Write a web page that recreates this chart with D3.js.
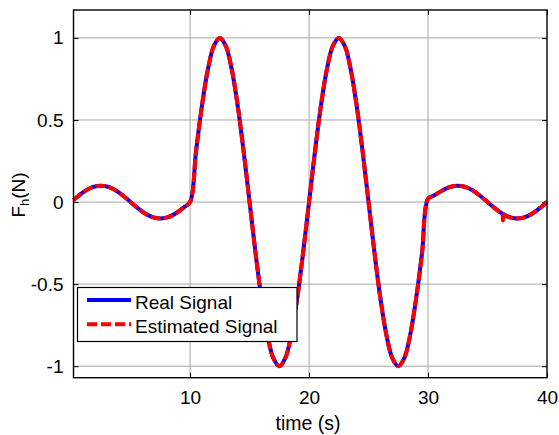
<!DOCTYPE html>
<html><head><meta charset="utf-8">
<script src="https://cdn.jsdelivr.net/npm/d3@7"></script>
<style>
html,body{margin:0;padding:0;background:#fff;}
svg{display:block;}
text{font-family:"Liberation Sans",Arial,sans-serif;fill:#000;}
</style></head>
<body>
<svg id="chart" width="559" height="435"></svg>
<script>
// ---- data ----
const realTime = [0.2,0.5,1,1.5,2,2.5,3,3.5,4,4.5,5,5.5,6,6.5,7,7.5,8,8.5,9,9.5,
  10,10.5,11,11.5,12,12.5,13,13.5,14,14.5,15,15.5,16,16.5,17,17.5,18,18.5,19,19.5,
  20,20.5,21,21.5,22,22.5,23,23.5,24,24.5,25,25.5,26,26.5,27,27.5,28,28.5,29,29.5,
  30,30.5,31,31.5,32,32.5,33,33.5,34,34.5,35,35.5,36,36.5,37,37.5,38,38.5,39,39.5,40];
const realSignal = [0.013,0.031,0.059,0.081,0.095,0.100,0.095,0.081,0.059,0.031,
  0.000,-0.031,-0.059,-0.081,-0.095,-0.100,-0.095,-0.081,-0.059,-0.031,
  0.000,0.309,0.588,0.809,0.951,1.000,0.951,0.809,0.588,0.309,
  0.000,-0.309,-0.588,-0.809,-0.951,-1.000,-0.951,-0.809,-0.588,-0.309,
  0.000,0.309,0.588,0.809,0.951,1.000,0.951,0.809,0.588,0.309,
  0.000,-0.309,-0.588,-0.809,-0.951,-1.000,-0.951,-0.809,-0.588,-0.309,
  0.020,0.040,0.062,0.082,0.095,0.100,0.095,0.081,0.059,0.031,
  0.000,-0.031,-0.059,-0.081,-0.095,-0.100,-0.095,-0.081,-0.059,-0.031,0.000];
const estTime = [0.2,0.5,1,1.5,2,2.5,3,3.5,4,4.5,5,5.5,6,6.5,7,7.5,8,8.5,9,9.5,
  10,10.5,11,11.5,12,12.5,13,13.5,14,14.5,15,15.5,16,16.5,17,17.5,18,18.5,19,19.5,
  20,20.5,21,21.5,22,22.5,23,23.5,24,24.5,25,25.5,26,26.5,27,27.5,28,28.5,29,29.5,
  30,30.5,31,31.5,32,32.5,33,33.5,34,34.5,35,35.5,36,36.25,36.3,36.35,36.5,37,37.5,38,38.5,39,39.5,40];
const estSignal = [0.013,0.031,0.059,0.081,0.095,0.100,0.095,0.081,0.059,0.031,
  0.000,-0.031,-0.059,-0.081,-0.095,-0.100,-0.095,-0.081,-0.059,-0.031,
  0.000,0.309,0.588,0.809,0.951,1.000,0.951,0.809,0.588,0.309,
  0.000,-0.309,-0.588,-0.809,-0.951,-1.000,-0.951,-0.809,-0.588,-0.309,
  0.000,0.309,0.588,0.809,0.951,1.000,0.951,0.809,0.588,0.309,
  0.000,-0.309,-0.588,-0.809,-0.951,-1.000,-0.951,-0.809,-0.588,-0.309,
  0.020,0.040,0.062,0.082,0.095,0.100,0.095,0.081,0.059,0.031,
  0.000,-0.031,-0.059,-0.072,-0.112,-0.074,-0.081,-0.095,-0.100,-0.095,-0.081,-0.059,-0.031,0.000];
const xTicks = [10,20,30,40];
const yTicks = [-1,-0.5,0,0.5,1];
const yTickLabels = ["-1","-0.5","0","0.5","1"];
const seriesNames = ["Real Signal","Estimated Signal"];
const seriesColors = ["#0000ff","#ff0000"];

// ---- layout ----
const svg = d3.select("#chart");
const L = 73.5, R = 547, T = 10, B = 377.7;
const x = d3.scaleLinear().domain([0.2, 40]).range([L, R]);
const y = d3.scaleLinear().domain([-1.07, 1.17]).range([B, T]);

// grid
const grid = svg.append("g");
grid.selectAll("line.gx").data(xTicks.filter(d => d < 40)).enter().append("line")
  .attr("x1", d => x(d)).attr("x2", d => x(d)).attr("y1", T).attr("y2", B)
  .attr("stroke", "#a6a6a6").attr("stroke-width", 1);
grid.selectAll("line.gy").data(yTicks).enter().append("line")
  .attr("y1", d => y(d)).attr("y2", d => y(d)).attr("x1", L).attr("x2", R)
  .attr("stroke", "#a6a6a6").attr("stroke-width", 1);

// axes (inward ticks on all sides)
const fs = "19px";
const axB = svg.append("g").attr("transform", `translate(0,${B})`)
  .call(d3.axisBottom(x).tickValues(xTicks).tickSizeInner(-5).tickSizeOuter(0).tickPadding(13).tickFormat(d3.format("d")));
const axT = svg.append("g").attr("transform", `translate(0,${T})`)
  .call(d3.axisTop(x).tickValues(xTicks).tickSizeInner(-5).tickSizeOuter(0).tickFormat(""));
const axL = svg.append("g").attr("transform", `translate(${L},0)`)
  .call(d3.axisLeft(y).tickValues(yTicks).tickSizeInner(-5).tickSizeOuter(0).tickPadding(10)
    .tickFormat((d, i) => yTickLabels[i]));
const axR = svg.append("g").attr("transform", `translate(${R},0)`)
  .call(d3.axisRight(y).tickValues(yTicks).tickSizeInner(-5).tickSizeOuter(0).tickFormat(""));
[axB, axT, axL, axR].forEach(a => {
  a.select(".domain").remove();
  a.selectAll(".tick line").attr("stroke", "#000").attr("stroke-width", 1);
  a.selectAll("text").style("font-size", fs).style("font-family", "'Liberation Sans',Arial,sans-serif").attr("fill", "#000");
});

// lines
const lineGen = d3.line().x(d => x(d[0])).y(d => y(d[1])).curve(d3.curveCatmullRom.alpha(0.5));
const realPts = realTime.map((t, i) => [t, realSignal[i]]);
const estPts = estTime.map((t, i) => [t, estSignal[i]]);
const clip = svg.append("clipPath").attr("id", "clip").append("rect")
  .attr("x", L).attr("y", T - 4).attr("width", R - L + 4).attr("height", B - T + 8);
svg.append("path").datum(realPts).attr("d", lineGen)
  .attr("fill", "none").attr("stroke", seriesColors[0]).attr("stroke-width", 4)
  .attr("stroke-linejoin", "round");
svg.append("path").datum(estPts).attr("d", lineGen)
  .attr("fill", "none").attr("stroke", seriesColors[1]).attr("stroke-width", 4)
  .attr("stroke-dasharray", "10,3").attr("stroke-linejoin", "round");

// frame
svg.append("rect").attr("x", L).attr("y", T).attr("width", R - L).attr("height", B - T)
  .attr("fill", "none").attr("stroke", "#000").attr("stroke-width", 1.4);

// legend
const lg = svg.append("g");
lg.append("rect").attr("x", 77.5).attr("y", 287.5).attr("width", 219.5).attr("height", 54)
  .attr("fill", "#fff").attr("stroke", "#000").attr("stroke-width", 1.2);
seriesNames.forEach((name, i) => {
  const yy = 300 + i * 24.3;
  lg.append("line").attr("x1", 87).attr("x2", 131).attr("y1", yy).attr("y2", yy)
    .attr("stroke", seriesColors[i]).attr("stroke-width", 4)
    .attr("stroke-dasharray", i === 1 ? "10,4" : null);
  lg.append("text").attr("x", 135).attr("y", yy + 8.5).style("font-size", fs).text(name);
});

// axis labels
svg.append("text").attr("x", 308).attr("y", 429.5).attr("text-anchor", "middle")
  .style("font-size", "19.5px").text("time (s)");
const yl = svg.append("text").attr("transform", "translate(25,195) rotate(-90)")
  .attr("text-anchor", "middle").style("font-size", fs);
yl.append("tspan").text("F");
yl.append("tspan").attr("dy", 4).style("font-size", "13px").text("h");
yl.append("tspan").attr("dy", -4).text("(N)");
</script>
</body></html>
